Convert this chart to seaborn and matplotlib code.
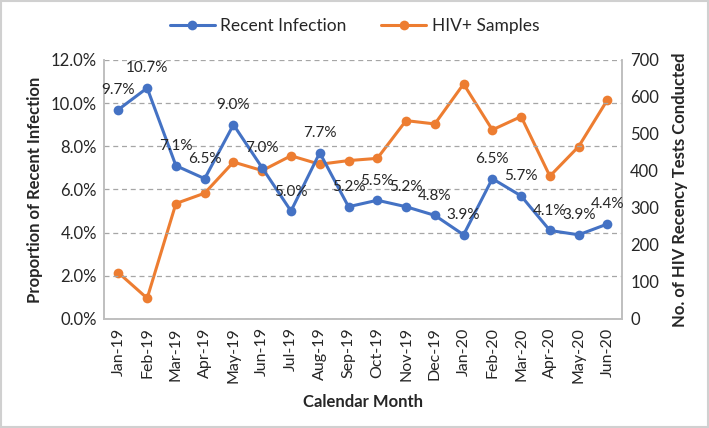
import matplotlib
matplotlib.use("Agg")
import matplotlib.pyplot as plt
import seaborn as sns
import pandas as pd
from matplotlib.ticker import FuncFormatter, MultipleLocator
from matplotlib.lines import Line2D
from matplotlib.patches import Rectangle

months = ["Jan-19", "Feb-19", "Mar-19", "Apr-19", "May-19", "Jun-19", "Jul-19", "Aug-19",
          "Sep-19", "Oct-19", "Nov-19", "Dec-19", "Jan-20", "Feb-20", "Mar-20", "Apr-20",
          "May-20", "Jun-20"]
recent_pct = [9.7, 10.7, 7.1, 6.5, 9.0, 7.0, 5.0, 7.7, 5.2, 5.5, 5.2, 4.8, 3.9, 6.5, 5.7, 4.1, 3.9, 4.4]
hiv_samples = [125, 56, 312, 340, 424, 401, 441, 418, 428, 434, 536, 527, 635, 511, 547, 386, 466, 592]

sns.set_theme(style="white")
plt.rcParams['font.family'] = ['Lato', 'DejaVu Sans']

BLUE = "#4472C4"
ORANGE = "#ED7D31"
GRID = "#A6A6A6"
TXT = "#262626"

df = pd.DataFrame({"idx": range(len(months)), "month": months,
                   "recent": recent_pct, "samples": hiv_samples})

fig = plt.figure(figsize=(7.09, 4.28), dpi=100)
ax = fig.add_axes([0.1467, 0.2547, 0.877 - 0.1467, 0.86 - 0.2547])
ax2 = ax.twinx()

sns.lineplot(data=df, x="idx", y="samples", ax=ax2, color=ORANGE, marker="o",
             markersize=7, markeredgewidth=0, linewidth=2.2, legend=False, zorder=2)
sns.lineplot(data=df, x="idx", y="recent", ax=ax, color=BLUE, marker="o",
             markersize=7, markeredgewidth=0, linewidth=2.2, legend=False, zorder=3)

ax.set_zorder(ax2.get_zorder() + 1)
ax.patch.set_visible(False)

ax.set_xlim(-0.5, len(months) - 0.5)
ax.set_ylim(0, 12)
ax2.set_ylim(0, 700)
ax.yaxis.set_major_locator(MultipleLocator(2))
ax2.yaxis.set_major_locator(MultipleLocator(100))
ax.yaxis.set_major_formatter(FuncFormatter(lambda v, p: f"{v:.1f}%"))

ax.set_xticks(range(len(months)))
ax.set_xticklabels(months, rotation=90, fontsize=11.5, color=TXT)
ax.set_xticks([i + 0.5 for i in range(-1, len(months))], minor=True)
ax.tick_params(axis="x", which="major", length=0, pad=6)
ax.tick_params(axis="x", which="minor", length=5, color=GRID, width=1, direction="out")
ax.tick_params(axis="y", length=0, labelsize=12, colors=TXT, pad=5)
ax2.tick_params(axis="y", length=0, labelsize=12, colors=TXT, pad=6)

ax.yaxis.grid(True, linestyle=(0, (4, 3)), color=GRID, linewidth=0.9)
ax.xaxis.grid(False)
ax2.grid(False)

for a in (ax, ax2):
    a.spines["top"].set_visible(False)
    for s in ("left", "right", "bottom"):
        a.spines[s].set_color("#BFBFBF")
        a.spines[s].set_linewidth(1.2)

ax.set_xlabel("Calendar Month", fontsize=12, fontweight="bold", color=TXT, labelpad=8)
ax.set_ylabel("Proportion of Recent Infection", fontsize=12, fontweight="bold", color=TXT, labelpad=6)
ax2.set_ylabel("No. of HIV Recency Tests Conducted", fontsize=12, fontweight="bold", color=TXT, labelpad=9)

for i, v in enumerate(recent_pct):
    ax.annotate(f"{v:.1f}%", (i, v), xytext=(0, 9), textcoords="offset points",
                ha="center", va="bottom", fontsize=11, color=TXT, zorder=5)

handles = [Line2D([], [], color=BLUE, marker="o", markersize=7, markeredgewidth=0, linewidth=2.2),
           Line2D([], [], color=ORANGE, marker="o", markersize=7, markeredgewidth=0, linewidth=2.2)]
fig.legend(handles, ["Recent Infection", "HIV+ Samples"], loc="center", ncol=2,
           bbox_to_anchor=(0.5, 0.94), frameon=False, fontsize=12.5,
           handlelength=2.6, columnspacing=2.0, handletextpad=0.3)
for t in fig.legends[0].get_texts():
    t.set_color(TXT)

fig.patches.append(Rectangle((0.002, 0.002), 0.996, 0.996, transform=fig.transFigure,
                             fill=False, edgecolor="#D0D0D0", linewidth=1.5))

fig.savefig("out.png", dpi=100)
